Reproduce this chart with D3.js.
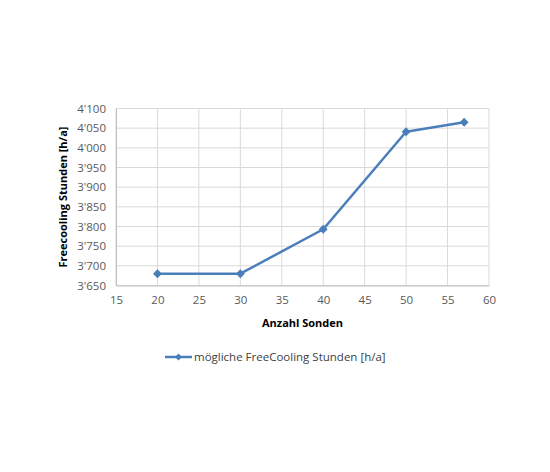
<!DOCTYPE html>
<html>
<head>
<meta charset="utf-8">
<script src="https://cdn.jsdelivr.net/npm/d3@7"></script>
<style>
  body { margin: 0; background: #fff; }
  svg text { font-family: "Open Sans", "Liberation Sans", sans-serif; }
</style>
</head>
<body>
<div id="chart"></div>
<script>
const sonden = [20, 30, 40, 50, 57];
const stunden = [3680, 3680, 3793, 4041, 4065];
const xTicks = [15, 20, 25, 30, 35, 40, 45, 50, 55, 60];
const yTicks = [3650, 3700, 3750, 3800, 3850, 3900, 3950, 4000, 4050, 4100];
const seriesName = "mögliche FreeCooling Stunden [h/a]";
const xTitle = "Anzahl Sonden";
const yTitle = "Freecooling Stunden [h/a]";

const width = 550, height = 472;
const margin = { left: 116, right: 61, top: 108.5, bottom: 186.5 };
const blue = "#4a7ebb";

const svg = d3.select("#chart").append("svg")
	.attr("width", width)
	.attr("height", height);

const x = d3.scaleLinear().domain([15, 60]).range([margin.left, width - margin.right]);
const y = d3.scaleLinear().domain([3650, 4100]).range([height - margin.bottom, margin.top]);

const fmt = d3.formatLocale({ decimal: ".", thousands: "'", grouping: [3], currency: ["", ""] }).format(",");

// grid
svg.append("g").selectAll("line").data(yTicks).join("line")
	.attr("x1", x(15)).attr("x2", x(60))
	.attr("y1", d => y(d)).attr("y2", d => y(d))
	.attr("stroke", "#d9d9d9").attr("stroke-width", 1);
svg.append("g").selectAll("line").data(xTicks).join("line")
	.attr("x1", d => x(d)).attr("x2", d => x(d))
	.attr("y1", y(3650)).attr("y2", y(4100))
	.attr("stroke", "#d9d9d9").attr("stroke-width", 1);

// axes
const xAxis = svg.append("g")
	.attr("transform", `translate(0,${y(3650)})`)
	.call(d3.axisBottom(x).tickValues(xTicks).tickSize(0).tickPadding(10));
const yAxis = svg.append("g")
	.attr("transform", `translate(${x(15)},0)`)
	.call(d3.axisLeft(y).tickValues(yTicks).tickSize(0).tickPadding(10).tickFormat(fmt));
[xAxis, yAxis].forEach(a => {
	a.select(".domain").attr("stroke", "#bfbfbf");
	a.selectAll("text").attr("fill", "#595959").style("font-size", "11.5px");
});

// axis titles
svg.append("text")
	.attr("x", (x(15) + x(60)) / 2).attr("y", 327)
	.attr("text-anchor", "middle")
	.style("font-size", "11px").style("font-weight", "bold")
	.text(xTitle);
svg.append("text")
	.attr("transform", `translate(67,${(y(3650) + y(4100)) / 2}) rotate(-90)`)
	.attr("text-anchor", "middle")
	.style("font-size", "11px").style("font-weight", "bold")
	.text(yTitle);

// series
const data = sonden.map((s, i) => ({ x: s, y: stunden[i] }));
svg.append("path").datum(data)
	.attr("fill", "none").attr("stroke", blue).attr("stroke-width", 2.5)
	.attr("stroke-linejoin", "round")
	.attr("d", d3.line().x(d => x(d.x)).y(d => y(d.y)));
const diamond = d3.symbol().type(d3.symbolDiamond2).size(50);
svg.append("g").selectAll("path").data(data).join("path")
	.attr("transform", d => `translate(${x(d.x)},${y(d.y)})`)
	.attr("d", diamond)
	.attr("fill", blue);

// legend
const lg = svg.append("g").attr("transform", "translate(165,357)");
lg.append("line").attr("x1", 0).attr("x2", 27).attr("stroke", blue).attr("stroke-width", 2.5);
lg.append("path").attr("transform", "translate(13.5,0)")
	.attr("d", d3.symbol().type(d3.symbolDiamond2).size(30)).attr("fill", blue);
lg.append("text").attr("x", 29).attr("y", 4)
	.attr("fill", "#404040").style("font-size", "11.5px")
	.text(seriesName);
</script>
</body>
</html>
